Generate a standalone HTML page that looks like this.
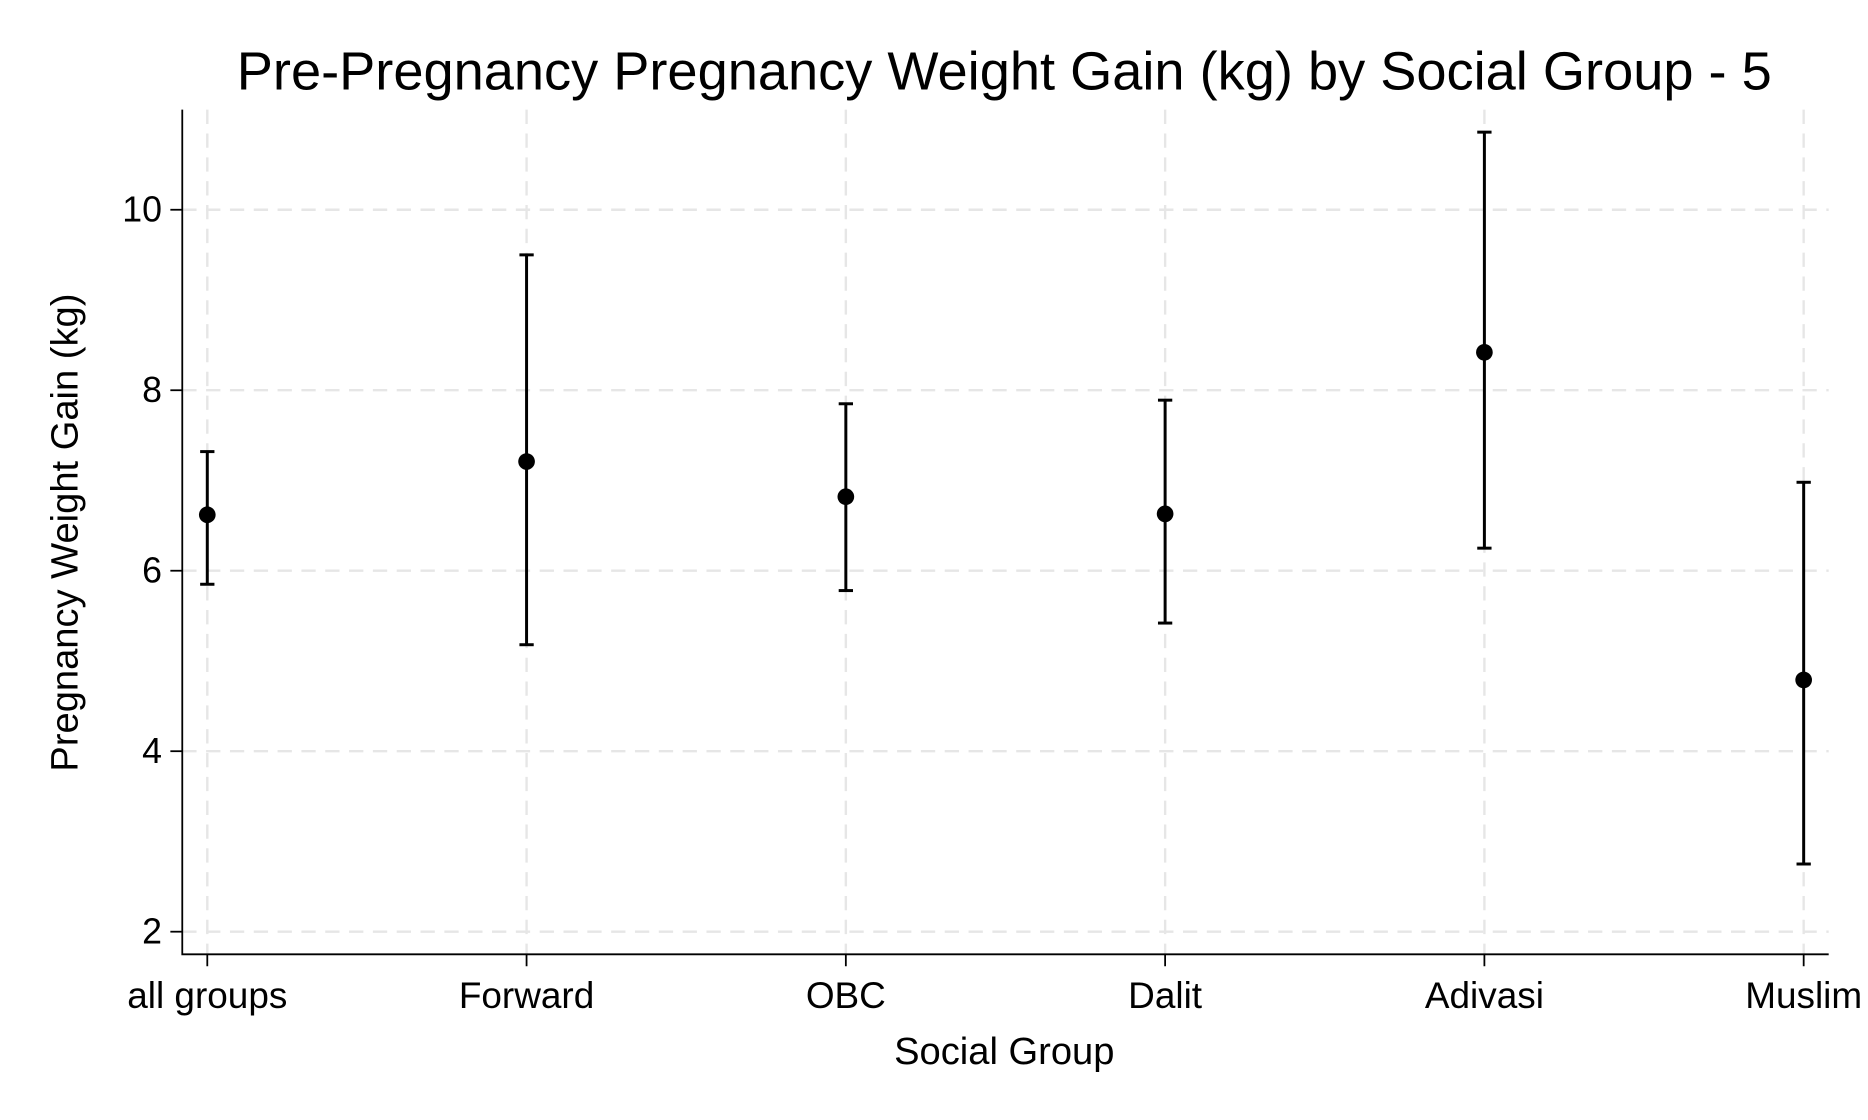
<!DOCTYPE html>
<html><head><meta charset="utf-8"><style>html,body{margin:0;padding:0;background:#fff}svg{display:block}text{font-family:"Liberation Sans",Arial,sans-serif;fill:#000}</style></head>
<body>
<svg id="chart" width="1868" height="1120" viewBox="0 0 1568 940" xmlns="http://www.w3.org/2000/svg">
<rect width="1568" height="940" fill="#fff"/>
<text x="843" y="75" font-size="45.5" text-anchor="middle">Pre-Pregnancy Pregnancy Weight Gain (kg) by Social Group - 5</text>
<g id="grid"></g>
<g id="axes"></g>
<g id="marks"></g>
<text x="843" y="893" font-size="32" text-anchor="middle">Social Group</text>
<text transform="translate(65,447) rotate(-90)" font-size="32" text-anchor="middle">Pregnancy Weight Gain (kg)</text>
</svg>
<script>
const categories=["all groups","Forward","OBC","Dalit","Adivasi","Muslim"];
const means=[6.62,7.21,6.82,6.63,8.42,4.79];
const lows=[5.85,5.18,5.78,5.42,6.25,2.75];
const highs=[7.32,9.50,7.85,7.89,10.86,6.98];
const yTicks=[2,4,6,8,10];
const NS="http://www.w3.org/2000/svg";
function xs(i){return 174+i*268;}
function ys(v){return 782-(v-2)*75.75;}
function mk(tag,attrs,parent){const e=document.createElementNS(NS,tag);for(const k in attrs)e.setAttribute(k,attrs[k]);parent.appendChild(e);return e;}
const grid=document.getElementById('grid'),axes=document.getElementById('axes'),marks=document.getElementById('marks');
yTicks.forEach(t=>{
  const l=mk('line',{x1:153,x2:1535,y1:ys(t),y2:ys(t),stroke:'#e6e6e6','stroke-width':2,'stroke-dasharray':'12,8'},grid);
  
  
  const tk=mk('line',{x1:143,x2:153,y1:ys(t),y2:ys(t),stroke:'#000','stroke-width':1.5},axes);
  
  
  const tx=mk('text',{x:136,y:ys(t)+10,'font-size':30,'text-anchor':'end'},axes);
  tx.textContent=t;
  
  
});
categories.forEach((c,i)=>{
  const l=mk('line',{x1:xs(i),x2:xs(i),y1:92,y2:801,stroke:'#e6e6e6','stroke-width':2,'stroke-dasharray':'12,8'},grid);
  
  
  const tk=mk('line',{x1:xs(i),x2:xs(i),y1:801,y2:811,stroke:'#000','stroke-width':1.5},axes);
  
  
  const tx=mk('text',{x:xs(i),y:846,'font-size':31,'text-anchor':'middle'},axes);
  tx.textContent=c;
  
  
});
const ax=mk('path',{d:'M153 92 V801 H1535',fill:'none',stroke:'#000','stroke-width':1.5},axes);


categories.forEach((c,i)=>{
  const g=mk('g',{},marks);
  
  
  const x=xs(i);
  mk('line',{x1:x,x2:x,y1:ys(lows[i]),y2:ys(highs[i]),stroke:'#000','stroke-width':2.5},g);
  mk('line',{x1:x-6,x2:x+6,y1:ys(lows[i]),y2:ys(lows[i]),stroke:'#000','stroke-width':2.5},g);
  mk('line',{x1:x-6,x2:x+6,y1:ys(highs[i]),y2:ys(highs[i]),stroke:'#000','stroke-width':2.5},g);
  const p=mk('circle',{cx:x,cy:ys(means[i]),r:7,fill:'#000'},g);
  
  
});
</script>
</body></html>
